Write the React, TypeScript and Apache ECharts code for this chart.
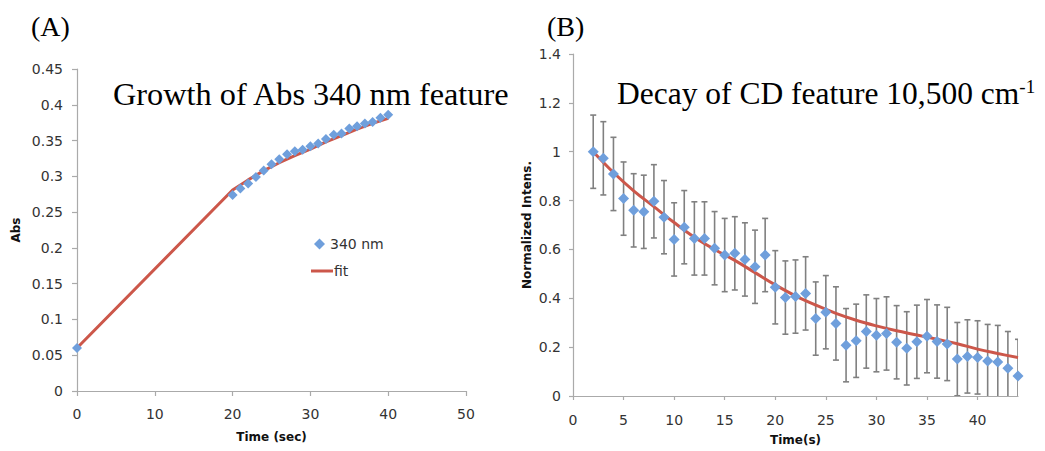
import React, { useEffect, useRef } from "react";
import * as echarts from "echarts";

// ---------- Panel A: growth of Abs 340 nm ----------
const absTimes = [0, 20, 21, 22, 23, 24, 25, 26, 27, 28, 29, 30, 31, 32, 33, 34, 35, 36, 37, 38, 39, 40];
const absValues = [0.06, 0.274, 0.283, 0.29, 0.299, 0.308, 0.317, 0.324, 0.331, 0.335, 0.337, 0.342, 0.346, 0.352, 0.358, 0.36, 0.367, 0.37, 0.374, 0.376, 0.382, 0.386];
const absFitTimes = [0, 20, 22, 24, 26, 28, 30, 32, 34, 36, 38, 40];
const absFitValues = [0.06, 0.281, 0.295, 0.308, 0.319, 0.329, 0.338, 0.348, 0.357, 0.366, 0.374, 0.381];

// ---------- Panel B: decay of CD feature ----------
const cdTimes = [2, 3, 4, 5, 6, 7, 8, 9, 10, 11, 12, 13, 14, 15, 16, 17, 18, 19, 20, 21, 22, 23, 24, 25, 26, 27, 28, 29, 30, 31, 32, 33, 34, 35, 36, 37, 38, 39, 40, 41, 42, 43, 44];
const cdValues = [1.0, 0.973, 0.909, 0.808, 0.76, 0.754, 0.797, 0.732, 0.641, 0.691, 0.645, 0.645, 0.605, 0.577, 0.584, 0.559, 0.529, 0.577, 0.445, 0.403, 0.407, 0.42, 0.317, 0.343, 0.297, 0.208, 0.226, 0.264, 0.249, 0.256, 0.22, 0.195, 0.222, 0.245, 0.223, 0.213, 0.151, 0.162, 0.158, 0.143, 0.139, 0.114, 0.082];
const cdErrors = [0.15, 0.15, 0.15, 0.15, 0.15, 0.15, 0.15, 0.15, 0.15, 0.15, 0.15, 0.15, 0.15, 0.15, 0.15, 0.15, 0.15, 0.15, 0.15, 0.15, 0.15, 0.15, 0.15, 0.15, 0.15, 0.15, 0.15, 0.15, 0.15, 0.15, 0.15, 0.15, 0.15, 0.15, 0.15, 0.15, 0.15, 0.15, 0.15, 0.15, 0.15, 0.15, 0.15];
const cdFitTimes = [2, 4, 6, 8, 10, 12, 14, 16, 18, 20, 22, 24, 26, 28, 30, 32, 34, 36, 38, 40, 42, 44];
const cdFitValues = [1.0, 0.915, 0.84, 0.775, 0.71, 0.65, 0.6, 0.555, 0.505, 0.455, 0.41, 0.372, 0.338, 0.31, 0.287, 0.267, 0.25, 0.232, 0.214, 0.192, 0.174, 0.157];
const cdXTickLabels = [0, 5, 10, 15, 20, 25, 30, 35, 40];

const BLUE = "#6f9fdc";
const RED = "#cc574a";
const AXIS = "#aaaaaa";
const LABEL = "#333333";
const SANS = "DejaVu Sans";
const SERIF = "Liberation Serif";

export default function App() {
  const ref = useRef<HTMLDivElement>(null);

  useEffect(() => {
    if (!ref.current) return;
    const chart = echarts.init(ref.current, null, { renderer: "svg" });

    const axisCommon = {
      axisLine: { show: true, lineStyle: { color: AXIS, width: 1.2 } },
      axisTick: { show: true, inside: false, length: 5, lineStyle: { color: AXIS, width: 1.2 } },
      splitLine: { show: false },
      axisLabel: { color: LABEL, fontSize: 14, fontFamily: SANS },
      nameTextStyle: { color: "#111", fontSize: 12, fontWeight: "bold", fontFamily: SANS },
    };

    const option: any = {
      animation: false,
      backgroundColor: "#ffffff",
      grid: [
        { left: 77, top: 69, width: 389, height: 322, containLabel: false },
        { left: 573, top: 54, width: 445, height: 343, containLabel: false },
      ],
      xAxis: [
        {
          ...axisCommon,
          gridIndex: 0,
          type: "value",
          min: 0,
          max: 50,
          interval: 10,
          name: "Time (sec)",
          nameLocation: "middle",
          nameGap: 40,
          axisLabel: { ...axisCommon.axisLabel, margin: 16 },
        },
        {
          ...axisCommon,
          gridIndex: 1,
          type: "value",
          min: 0,
          max: 44,
          interval: 5,
          name: "Time(s)",
          nameLocation: "middle",
          nameGap: 38,
          axisTick: { ...axisCommon.axisTick, length: 4, customValues: cdXTickLabels },
          axisLabel: { ...axisCommon.axisLabel, margin: 17, customValues: cdXTickLabels },
        },
      ],
      yAxis: [
        {
          ...axisCommon,
          gridIndex: 0,
          type: "value",
          min: 0,
          max: 0.45,
          interval: 0.05,
          name: "Abs",
          nameLocation: "middle",
          nameGap: 55,
          axisLabel: { ...axisCommon.axisLabel, margin: 14 },
        },
        {
          ...axisCommon,
          gridIndex: 1,
          type: "value",
          min: 0,
          max: 1.4,
          interval: 0.2,
          name: "Normalized Intens.",
          nameLocation: "middle",
          nameGap: 40,
          axisTick: { ...axisCommon.axisTick, length: 4 },
          axisLabel: { ...axisCommon.axisLabel, margin: 12 },
        },
      ],
      legend: [
        {
          data: [{ name: "340 nm", icon: "diamond" }],
          left: 309,
          top: 232,
          itemWidth: 11,
          itemHeight: 11,
          itemGap: 0,
          textStyle: { color: LABEL, fontSize: 14, fontFamily: SANS },
          selectedMode: false,
        },
        {
          data: [{ name: "fit", icon: "rect" }],
          left: 306,
          top: 259,
          itemWidth: 22,
          itemHeight: 3,
          textStyle: { color: LABEL, fontSize: 14, fontFamily: SANS, padding: [0, 0, 0, -4] },
          selectedMode: false,
        },
      ],
      series: [
        {
          name: "fit",
          type: "line",
          xAxisIndex: 0,
          yAxisIndex: 0,
          data: absFitTimes.map((t, i) => [t, absFitValues[i]]),
          symbol: "none",
          lineStyle: { color: RED, width: 3 },
          itemStyle: { color: RED },
          z: 2,
        },
        {
          name: "340 nm",
          type: "scatter",
          xAxisIndex: 0,
          yAxisIndex: 0,
          data: absTimes.map((t, i) => [t, absValues[i]]),
          symbol: "diamond",
          symbolSize: 10,
          itemStyle: { color: BLUE, opacity: 1 },
          z: 3,
        },
        {
          name: "cd error",
          type: "custom",
          xAxisIndex: 1,
          yAxisIndex: 1,
          data: cdTimes.map((t, i) => [t, cdValues[i], cdErrors[i]]),
          encode: { x: 0, y: 1 },
          clip: true,
          z: 1,
          renderItem: (params: any, api: any) => {
            const x = api.value(0);
            const y = api.value(1);
            const e = api.value(2);
            const top = api.coord([x, y + e]);
            const bot = api.coord([x, Math.max(0, y - e)]);
            const style = { stroke: "#808080", lineWidth: 1.6 };
            const children: any[] = [
              { type: "line", shape: { x1: top[0], y1: top[1], x2: bot[0], y2: bot[1] }, style },
              { type: "line", shape: { x1: top[0] - 3, y1: top[1], x2: top[0] + 3, y2: top[1] }, style },
            ];
            if (y - e > 0) {
              children.push({ type: "line", shape: { x1: bot[0] - 3, y1: bot[1], x2: bot[0] + 3, y2: bot[1] }, style });
            }
            return { type: "group", children };
          },
        },
        {
          name: "cd fit",
          type: "line",
          xAxisIndex: 1,
          yAxisIndex: 1,
          data: cdFitTimes.map((t, i) => [t, cdFitValues[i]]),
          symbol: "none",
          smooth: 0.4,
          lineStyle: { color: RED, width: 3 },
          z: 2,
        },
        {
          name: "cd",
          type: "scatter",
          xAxisIndex: 1,
          yAxisIndex: 1,
          data: cdTimes.map((t, i) => [t, cdValues[i]]),
          symbol: "diamond",
          symbolSize: 11,
          itemStyle: { color: BLUE, opacity: 1 },
          z: 3,
        },
      ],
      graphic: [
        {
          type: "text",
          left: 31,
          top: 12,
          style: { text: "(A)", fontSize: 28, fontFamily: SERIF, fill: "#000" },
        },
        {
          type: "text",
          left: 547,
          top: 12,
          style: { text: "(B)", fontSize: 28, fontFamily: SERIF, fill: "#000" },
        },
        {
          type: "text",
          left: 113,
          top: 78,
          style: { text: "Growth of Abs 340 nm feature", fontSize: 32.3, fontFamily: SERIF, fill: "#000" },
        },
        {
          type: "text",
          left: 617,
          top: 77,
          style: {
            text: "{a|Decay of CD feature 10,500 cm}{b|-1}",
            fill: "#000",
            rich: {
              a: { fontSize: 31.5, fontFamily: SERIF, fill: "#000" },
              b: { fontSize: 19, fontFamily: SERIF, fill: "#000", verticalAlign: "top", padding: [0, 0, 12, 0] },
            },
          },
        },
      ],
    };

    chart.setOption(option);
    return () => chart.dispose();
  }, []);

  return (
    <div
      ref={ref}
      style={{ position: "absolute", left: 0, top: 0, width: 1045, height: 451 }}
    />
  );
}
